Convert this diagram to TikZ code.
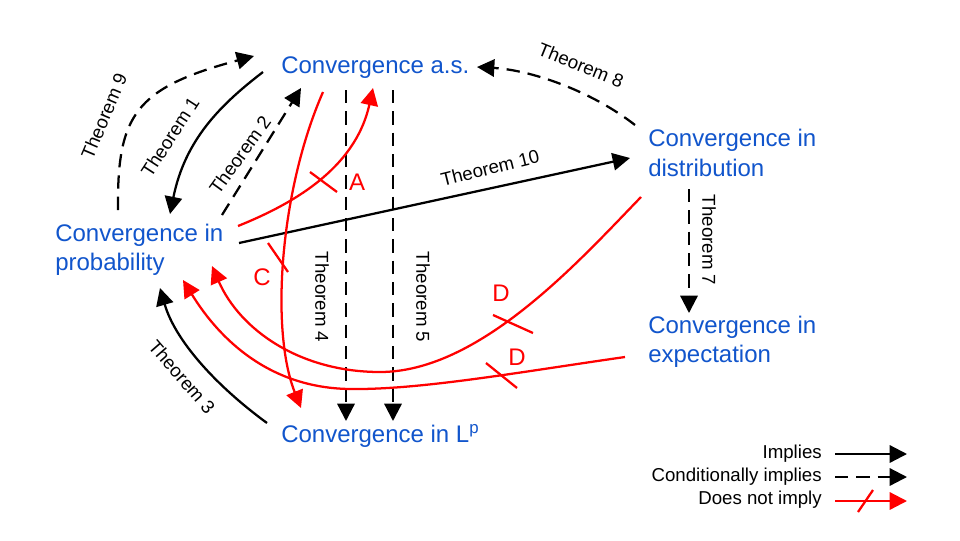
\documentclass[tikz,border=0pt]{standalone}
\usepackage{fontspec}
\setmainfont{Liberation Sans}
\usetikzlibrary{arrows.meta}
\definecolor{cblue}{RGB}{17,85,204}
\begin{document}
\begin{tikzpicture}[x=0.75pt,y=-0.75pt,
  conv/.style={text=cblue,font=\fontsize{18}{22}\selectfont,inner sep=0pt,align=left},
  thm/.style={font=\fontsize{14}{17}\selectfont,inner sep=0pt},
  imp/.style={line width=1.7pt,-{Triangle[length=13pt,width=13pt]}},
  cond/.style={imp,dash pattern=on 10pt off 6pt},
  nimp/.style={imp,red},
  crossmark/.style={line width=1.7pt,red},
  lab/.style={text=red,font=\fontsize{18}{22}\selectfont,inner sep=0pt},
  leg/.style={font=\fontsize{14}{17}\selectfont,inner sep=0pt,anchor=east}]
\useasboundingbox[fill=white] (0,0) rectangle (960,540);

% main nodes
\node[conv,anchor=base west] (as) at (281,73) {Convergence a.s.};
\node[conv,anchor=west] (dist) at (648,153) {Convergence in\\distribution};
\node[conv,anchor=west] (prob) at (55,250) {Convergence in\\probability};
\node[conv,anchor=west] (expe) at (648,342) {Convergence in\\expectation};
\node[conv,anchor=base west] (lp) at (281,442) {Convergence in L\textsuperscript{p}};

% endpoints
\coordinate (t9s) at (118,210);  \coordinate (t9e) at (254,56);
\coordinate (t1s) at (263,72);   \coordinate (t1e) at (170,214);
\coordinate (t2s) at (222,215);  \coordinate (t2e) at (301,88);
\coordinate (t3s) at (267,423);  \coordinate (t3e) at (160,288);
\coordinate (t4s) at (346,90);   \coordinate (t4e) at (346,421);
\coordinate (t5s) at (393,90);   \coordinate (t5e) at (393,421);
\coordinate (t7s) at (689,189);  \coordinate (t7e) at (689,313);
\coordinate (t8s) at (635,125);  \coordinate (t8e) at (477,67);
\coordinate (t10s) at (239,243); \coordinate (t10e) at (630,158);
\coordinate (as1) at (238,226);  \coordinate (ae) at (373,88);
\coordinate (cs) at (323,92);    \coordinate (ce) at (301,408);
\coordinate (d1s) at (641,197);  \coordinate (d1m) at (380,372); \coordinate (d1e) at (212,266);
\coordinate (d2s) at (625,357);  \coordinate (d2m) at (350,389); \coordinate (d2e) at (183,280);

% black implications
\draw[cond] (t9s) .. controls (117,115) and (135,88) .. (t9e);
\draw[imp] (t1s) .. controls (220,105) and (185,140) .. (t1e);
\draw[cond] (t2s) -- (t2e);
\draw[imp] (t3s) .. controls (215,385) and (175,340) .. (t3e);
\draw[cond] (t4s) -- (t4e);
\draw[cond] (t5s) -- (t5e);
\draw[cond] (t7s) -- (t7e);
\draw[cond] (t8s) .. controls (590,90) and (530,70) .. (t8e);
\draw[imp] (t10s) -- (t10e);

% theorem labels
\node[thm,rotate=67] (l9) at (104,116) {Theorem 9};
\node[thm,rotate=57] (l1) at (170,137) {Theorem 1};
\node[thm,rotate=54] (l2) at (240,155) {Theorem 2};
\node[thm,rotate=-49] (l3) at (182,377) {Theorem 3};
\node[thm,rotate=-90] (l4) at (322,297) {Theorem 4};
\node[thm,rotate=-90] (l5) at (423,297) {Theorem 5};
\node[thm,rotate=-90] (l7) at (709,240) {Theorem 7};
\node[thm,rotate=-22] (l8) at (581,65) {Theorem 8};
\node[thm,rotate=14] (l10) at (490,168) {Theorem 10};

% red non-implications
\draw[nimp] (as1) .. controls (290,205) and (355,170) .. (ae);
\draw[nimp] (cs) .. controls (280,190) and (270,330) .. (ce);
\draw[nimp] (d1s) .. controls (580,260) and (480,372) .. (d1m)
  .. controls (300,372) and (240,330) .. (d1e);
\draw[nimp] (d2s) .. controls (520,372) and (420,390) .. (d2m)
  .. controls (270,388) and (220,340) .. (d2e);

% crosses
\coordinate (xa1) at (310,172); \coordinate (xa2) at (337,192);
\coordinate (xc1) at (268,243); \coordinate (xc2) at (288,272);
\coordinate (xd1) at (493,315); \coordinate (xd2) at (533,333);
\coordinate (xe1) at (486,363); \coordinate (xe2) at (517,388);
\draw[crossmark] (xa1) -- (xa2);
\draw[crossmark] (xc1) -- (xc2);
\draw[crossmark] (xd1) -- (xd2);
\draw[crossmark] (xe1) -- (xe2);
\node[lab] (la) at (357,182) {A};
\node[lab] (lc) at (262,277) {C};
\node[lab] (ld1) at (501,293) {D};
\node[lab] (ld2) at (517,357) {D};

% legend
\node[leg] (g1) at (822,454) {Implies};
\node[leg] (g2) at (822,477) {Conditionally implies};
\node[leg] (g3) at (822,500) {Does not imply};
\coordinate (g1a) at (835,454); \coordinate (g1b) at (907,454);
\coordinate (g2a) at (835,477); \coordinate (g2b) at (907,477);
\coordinate (g3a) at (835,501); \coordinate (g3b) at (907,501);
\coordinate (gx1) at (858,512); \coordinate (gx2) at (873,490);
\draw[imp] (g1a) -- (g1b);
\draw[cond] (g2a) -- (g2b);
\draw[nimp] (g3a) -- (g3b);
\draw[crossmark] (gx1) -- (gx2);
\end{tikzpicture}
\end{document}
